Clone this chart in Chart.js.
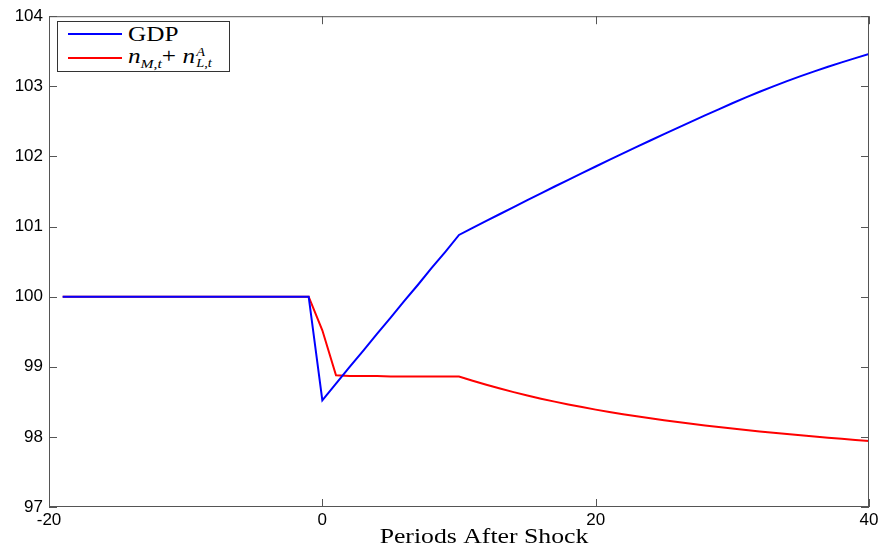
<!DOCTYPE html>
<html>
<head>
<meta charset="utf-8">
<script src="https://cdn.jsdelivr.net/npm/chart.js@4.4.1/dist/chart.umd.min.js"></script>
<style>
  html, body { margin: 0; padding: 0; background: #fff; }
  #wrap { position: relative; width: 882px; height: 552px; }
  #legend {
    position: absolute; left: 57px; top: 21px; width: 173px; height: 51px;
    border: 1px solid #333; background: #fff; box-sizing: border-box;
    font-family: "Liberation Serif", "Times New Roman", serif; color: #000;
  }
  .row { position: absolute; left: 10px; height: 24px; display: flex; align-items: center; }
  .swatch { width: 54px; height: 2px; margin-right: 6px; }
  .txt { font-size: 21px; transform: scaleX(1.2); transform-origin: left center; white-space: nowrap; }
  .txt sub { font-size: 13px; vertical-align: -5px; }
  .stack { display: inline-flex; flex-direction: column; vertical-align: middle; font-size: 12px; line-height: 11px; margin-left: 1px; }
</style>
</head>
<body>
<div id="wrap">
  <canvas id="chart" width="882" height="552"></canvas>
  <div id="legend">
    <div class="row" style="top:0px"><span class="swatch" style="background:#0000ff"></span><span class="txt">GDP</span></div>
    <div class="row" style="top:24px"><span class="swatch" style="background:#ff0000"></span><span class="txt"><i>n</i><sub><i>M</i>,<i>t</i></sub>+ <i>n</i><span class="stack"><i>A</i><span><i>L</i>,<i>t</i></span></span></span></div>
  </div>
</div>
<script>
// periods after the shock
const periods = [-19,-18,-17,-16,-15,-14,-13,-12,-11,-10,-9,-8,-7,-6,-5,-4,-3,-2,-1,
  0,1,2,3,4,5,6,7,8,9,10,11,12,13,14,15,16,17,18,19,20,
  21,22,23,24,25,26,27,28,29,30,31,32,33,34,35,36,37,38,39,40];

// GDP index
const gdp = [100,100,100,100,100,100,100,100,100,100,100,100,100,100,100,100,100,100,100,
  98.52,98.76,99.00,99.23,99.47,99.70,99.94,100.17,100.41,100.64,100.88,
  100.980,101.080,101.179,101.278,101.376,101.474,101.571,101.667,101.762,101.856,
  101.950,102.043,102.135,102.227,102.318,102.408,102.497,102.585,102.672,102.758,
  102.843,102.923,103.000,103.074,103.145,103.213,103.278,103.341,103.402,103.460];

// n_M + n_L^A
const labour = [100,100,100,100,100,100,100,100,100,100,100,100,100,100,100,100,100,100,100,
  99.52,98.88,98.87,98.87,98.87,98.86,98.86,98.86,98.86,98.86,98.86,
  98.800,98.743,98.689,98.638,98.590,98.545,98.503,98.463,98.425,98.389,
  98.355,98.323,98.293,98.265,98.238,98.212,98.187,98.163,98.140,98.118,
  98.097,98.077,98.058,98.040,98.022,98.005,97.988,97.972,97.956,97.940];

const xTicks = [-20, 0, 20, 40];
const yTicks = [97, 98, 99, 100, 101, 102, 103, 104];
const xLabel = 'Periods After Shock';

// box round the axes with inward ticks, matlab style
const boxPlugin = {
  id: 'box',
  afterDraw(chart){
    const ctx = chart.ctx, a = chart.chartArea;
    const xs = chart.scales.x, ys = chart.scales.y;
    ctx.save();
    ctx.strokeStyle = '#555';
    ctx.lineWidth = 1;
    ctx.strokeRect(a.left + 0.5, a.top + 0.5, a.right - a.left - 1, a.bottom - a.top - 1);
    ctx.beginPath();
    xs.ticks.forEach(t=>{
      const p = Math.round(xs.getPixelForValue(t.value)) + 0.5;
      ctx.moveTo(p, a.bottom); ctx.lineTo(p, a.bottom - 8);
      ctx.moveTo(p, a.top); ctx.lineTo(p, a.top + 8);
    });
    ys.ticks.forEach(t=>{
      const p = Math.round(ys.getPixelForValue(t.value)) + 0.5;
      ctx.moveTo(a.left, p); ctx.lineTo(a.left + 8, p);
      ctx.moveTo(a.right, p); ctx.lineTo(a.right - 8, p);
    });
    ctx.stroke();
    // x label
    ctx.fillStyle = '#000';
    ctx.font = '22px "Liberation Serif", serif';
    ctx.textAlign = 'center';
    ctx.textBaseline = 'middle';
    ctx.translate(484, 537);
    ctx.scale(1.17, 1);
    ctx.fillText(xLabel, 0, 0);
    ctx.restore();
  }
};

Chart.defaults.color = '#000';
Chart.defaults.font.family = '"Liberation Sans", Arial, sans-serif';
Chart.defaults.font.size = 17;

new Chart(document.getElementById('chart'), {
  type: 'line',
  data: {
    datasets: [
      { label: 'GDP', data: periods.map((p,i)=>({x:p, y:gdp[i]})),
        borderColor: '#0000ff', borderWidth: 2, pointRadius: 0, tension: 0, fill: false },
      { label: 'n_M + n_L^A', data: periods.map((p,i)=>({x:p, y:labour[i]})),
        borderColor: '#ff0000', borderWidth: 2, pointRadius: 0, tension: 0, fill: false }
    ]
  },
  options: {
    responsive: false,
    animation: false,
    layout: { padding: { top: 15, right: 13, left: 0, bottom: 0 } },
    plugins: { legend: { display: false }, tooltip: { enabled: false } },
    scales: {
      x: {
        type: 'linear', min: -20, max: 40,
        afterBuildTicks: s => { s.ticks = xTicks.map(v=>({value:v})); },
        afterFit: s => { s.height = 45; },
        grid: { display: false, drawTicks: false },
        border: { display: false },
        ticks: { padding: 3, maxRotation: 0, autoSkip: false }
      },
      y: {
        min: 97, max: 104,
        afterBuildTicks: s => { s.ticks = yTicks.map(v=>({value:v})); },
        afterFit: s => { s.width = 49; },
        grid: { display: false, drawTicks: false },
        border: { display: false },
        ticks: { padding: 6 }
      }
    }
  },
  plugins: [boxPlugin]
});
</script>
</body>
</html>
